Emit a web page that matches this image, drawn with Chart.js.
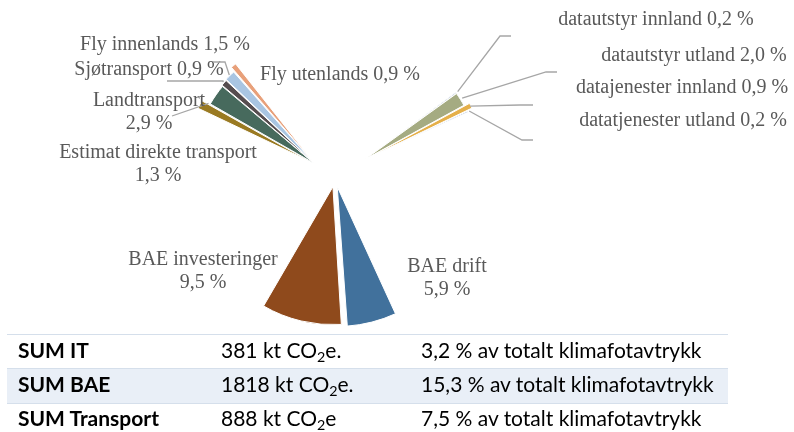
<!DOCTYPE html>
<html>
<head>
<meta charset="utf-8">
<script src="https://cdn.jsdelivr.net/npm/chart.js@4.4.1/dist/chart.umd.min.js"></script>
<style>
  body { margin: 0; width: 794px; height: 432px; background: #fff; position: relative; overflow: hidden; }
  canvas { position: absolute; left: 0; top: 0; }
  .sum { position: absolute; left: 7px; width: 721px; font-family: Lato, "Open Sans", sans-serif;
         font-size: 21px; color: #000; white-space: nowrap; box-sizing: border-box; }
  .sum span { position: absolute; top: -2px; }
  .sum span.c1 { left: 11px; font-weight: bold; }
  .sum span.c2 { left: 214px; }
  .sum span.c3 { left: 414px; }
  .sum sub { font-size: 0.68em; line-height: 0; vertical-align: -0.25em; }
  .r1 { top: 334px; height: 34px; line-height: 34px; border-top: 1.5px solid #d5dfeb; }
  .r2 { top: 368px; height: 36px; line-height: 34px; background: #e9eff7;
        border-top: 1.5px solid #d5dfeb; border-bottom: 1.5px solid #d5dfeb; }
  .r3 { top: 404px; height: 32px; line-height: 32px; }
</style>
</head>
<body>
<canvas id="itChart" width="794" height="332"></canvas>
<canvas id="baeChart" width="794" height="332"></canvas>
<canvas id="transportChart" width="794" height="332"></canvas>
<div class="sum r1"><span class="c1">SUM IT</span><span class="c2">381 kt CO<sub>2</sub>e.</span><span class="c3">3,2 % av totalt klimafotavtrykk</span></div>
<div class="sum r2"><span class="c1">SUM BAE</span><span class="c2">1818 kt CO<sub>2</sub>e.</span><span class="c3">15,3 % av totalt klimafotavtrykk</span></div>
<div class="sum r3"><span class="c1">SUM Transport</span><span class="c2">888 kt CO<sub>2</sub>e</span><span class="c3">7,5 % av totalt klimafotavtrykk</span></div>
<script>
// share of total climate footprint, %
const TOTAL = 100;

const itLabels = ["datautstyr innland", "datautstyr utland", "datajenester innland", "datatjenester utland"];
const itValues = [0.2, 2.0, 0.9, 0.2];

const baeLabels = ["BAE drift", "BAE investeringer"];
const baeValues = [5.9, 9.5];

const transportLabels = ["Estimat direkte transport", "Landtransport", "Sjøtransport", "Fly innenlands", "Fly utenlands"];
const transportValues = [1.3, 2.9, 0.9, 1.5, 0.9];

const W = 794, H = 332;
const fmt = (v) => v.toFixed(1).replace(".", ",") + " %";

// data labels + leader lines, one plugin instance per chart
function sliceLabels(items) {
  return {
    id: "sliceLabels",
    afterDatasetsDraw(chart) {
      const ctx = chart.ctx;
      const arcs = chart.getDatasetMeta(0).data;
      ctx.save();
      ctx.font = '20px "Liberation Serif"';
      ctx.fillStyle = "#595959";
      ctx.textAlign = "center";
      ctx.textBaseline = "middle";
      ctx.strokeStyle = "#a6a6a6";
      ctx.lineWidth = 1.3;
      items.forEach((item, i) => {
        if (!item) return;
        const arc = arcs[i];
        if (item.leader) {
          const t = typeof item.at === "number" ? item.at : 0.5;
          const ang = arc.startAngle + (arc.endAngle - arc.startAngle) * t;
          const shift = (arc.options.offset || 0) / 4;
          const r = arc.outerRadius + shift + 3;
          ctx.beginPath();
          ctx.moveTo(arc.x + Math.cos(ang) * r, arc.y + Math.sin(ang) * r);
          item.leader.forEach((p) => ctx.lineTo(p[0], p[1]));
          ctx.stroke();
        }
        item.lines.forEach((txt, k) => ctx.fillText(txt, item.x, item.y + k * 23));
      });
      ctx.restore();
    },
  };
}

function makePie(id, labels, values, colors, opt) {
  const rest = TOTAL - values.reduce((a, b) => a + b, 0);
  const pad = {
    left: Math.max(0, 2 * opt.cx - W),
    right: Math.max(0, W - 2 * opt.cx),
    top: Math.max(0, 2 * opt.cy - H),
    bottom: Math.max(0, H - 2 * opt.cy),
  };
  return new Chart(document.getElementById(id), {
    type: "pie",
    data: {
      labels: labels.concat(["Øvrig"]),
      datasets: [{
        data: values.concat([rest]),
        backgroundColor: colors.concat(["rgba(0,0,0,0)"]),
        borderColor: "#fff",
        borderWidth: values.map(() => 1).concat([0]),
        offset: opt.offsets.map((o) => o * 4).concat([0]),
        hoverOffset: 0,
      }],
    },
    options: {
      responsive: false,
      animation: false,
      events: [],
      rotation: opt.rotation,
      radius: opt.radius,
      layout: { padding: pad },
      plugins: {
        legend: { display: false },
        tooltip: { enabled: false },
      },
    },
    plugins: [sliceLabels(opt.items)],
  });
}

makePie("itChart", itLabels, itValues,
  ["#9fb0c9", "#a5ab82", "#e5b04a", "#7f9cc6"], {
    cx: 364, cy: 160, radius: 112, rotation: 53.5,
    offsets: [1, 1, 4, 1],
    items: [
      { lines: [itLabels[0] + " " + fmt(itValues[0])], x: 656, y: 20, leader: [[500, 36], [511, 36]] },
      { lines: [itLabels[1] + " " + fmt(itValues[1])], x: 694, y: 56, leader: [[546, 72], [557, 72]] },
      { lines: [itLabels[2] + " " + fmt(itValues[2])], x: 682, y: 88, leader: [[520, 105], [533, 105]] },
      { lines: [itLabels[3] + " " + fmt(itValues[3])], x: 683, y: 121, leader: [[522, 140], [533, 140]] },
    ],
  });

makePie("baeChart", baeLabels, baeValues,
  ["#41719c", "#8f4a1c"], {
    cx: 335, cy: 178, radius: 134, rotation: 155,
    offsets: [9, 9],
    items: [
      { lines: [baeLabels[0], fmt(baeValues[0])], x: 447, y: 267 },
      { lines: [baeLabels[1], fmt(baeValues[1])], x: 203, y: 260 },
    ],
  });

makePie("transportChart", transportLabels, transportValues,
  ["#9a7a22", "#476a5d", "#564d4f", "#a9c5e2", "#e8a07a"], {
    cx: 315, cy: 164, radius: 118, rotation: 295,
    offsets: [6, 1.5, 2, 2.5, 5],
    items: [
      { lines: [transportLabels[0], fmt(transportValues[0])], x: 158, y: 153 },
      { lines: [transportLabels[1], fmt(transportValues[1])], x: 149, y: 101, at: 0, leader: [[172, 116]] },
      { lines: [transportLabels[2] + " " + fmt(transportValues[2])], x: 149, y: 70, leader: [[223, 81], [167, 81]] },
      { lines: [transportLabels[3] + " " + fmt(transportValues[3])], x: 165, y: 45, leader: [[225, 62], [213, 62]] },
      { lines: [transportLabels[4] + " " + fmt(transportValues[4])], x: 340, y: 75 },
    ],
  });
</script>
</body>
</html>
